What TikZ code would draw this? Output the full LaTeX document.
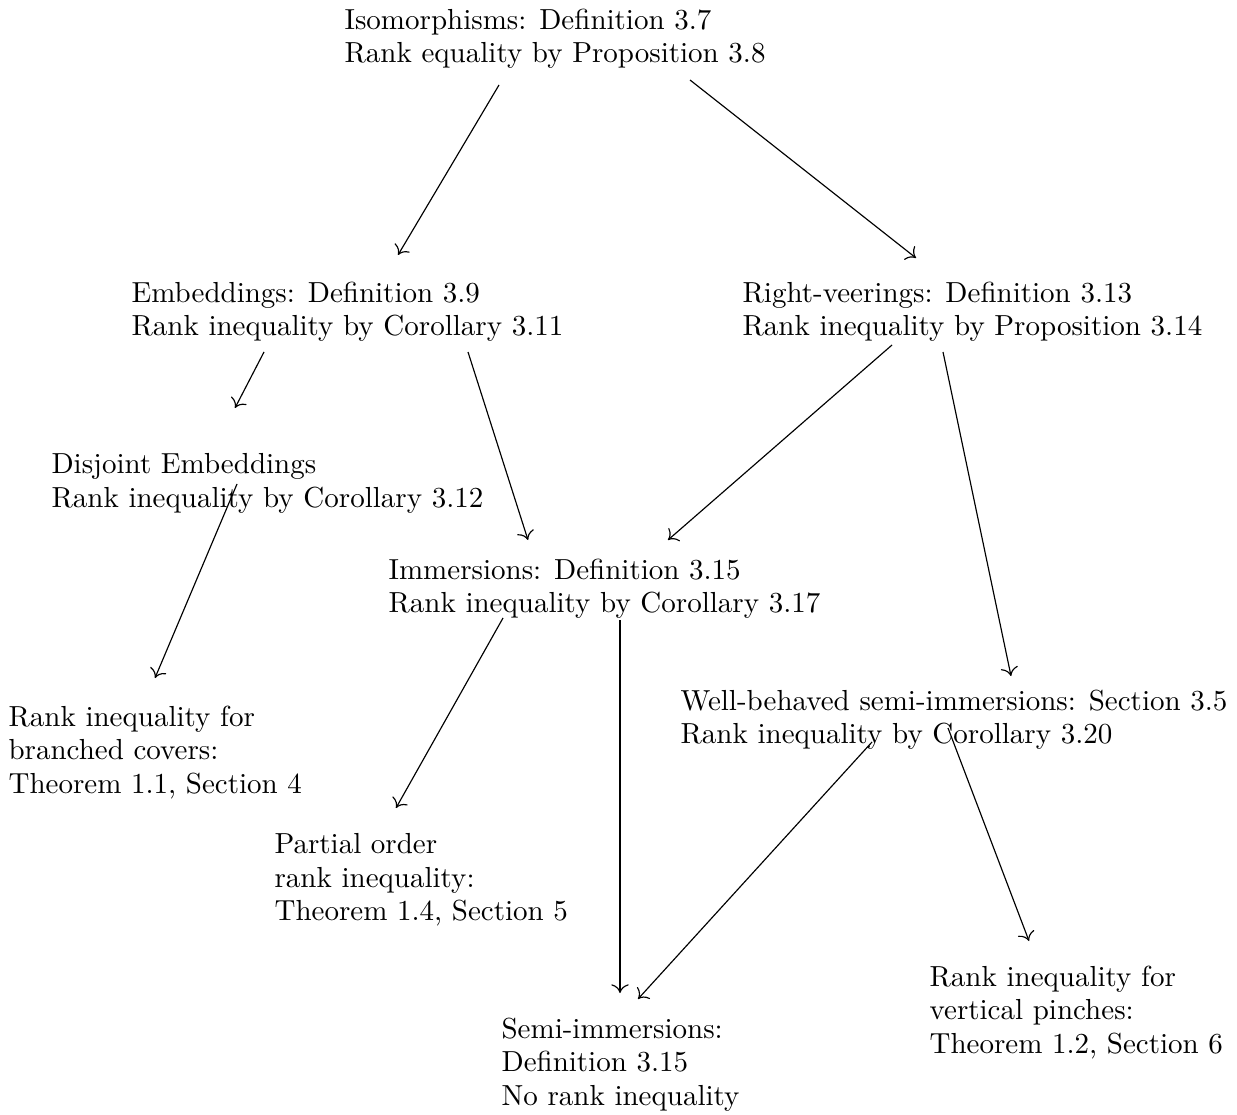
\documentclass[tikz,border=0pt]{standalone}
\usetikzlibrary{arrows.meta,calc}
\begin{document}
\begin{tikzpicture}[x=0.01211cm,y=-0.01211cm,->,>={To[length=3pt,width=6pt]},line width=0.4pt,
  every node/.style={align=left,anchor=north west,inner sep=0pt,font=\fontsize{10}{11.55}\selectfont}]
  \useasboundingbox (0,0) rectangle (1237,1114);

  \node (iso)    at (344,8)    {Isomorphisms: Definition 3.7\\Rank equality by Proposition 3.8};
  \node (emb)    at (131,281)  {Embeddings: Definition 3.9\\Rank inequality by Corollary 3.11};
  \node (right)  at (742,281)  {Right-veerings: Definition 3.13\\Rank inequality by Proposition 3.14};
  \node (dis)    at (51,453)   {Disjoint Embeddings\\Rank inequality by Corollary 3.12};
  \node (imm)    at (388,558)  {Immersions: Definition 3.15\\Rank inequality by Corollary 3.17};
  \node (branch) at (8,705)    {Rank inequality for\\branched covers:\\Theorem 1.1, Section 4};
  \node (well)   at (680,689)  {Well-behaved semi-immersions: Section 3.5\\Rank inequality by Corollary 3.20};
  \node (part)   at (274,833)  {Partial order\\rank inequality:\\Theorem 1.4, Section 5};
  \node (vert)   at (929,965)  {Rank inequality for\\vertical pinches:\\Theorem 1.2, Section 6};
  \node (semi)   at (501,1017) {Semi-immersions:\\Definition 3.15\\No rank inequality};

  \draw ($(iso.north west)+(155,77)$)    -- ($(emb.north west)+(267,-26)$);
  \draw ($(iso.north west)+(346,72)$)    -- ($(right.north west)+(174,-23)$);
  \draw ($(emb.north west)+(133,71)$)    -- ($(dis.north west)+(184,-45)$);
  \draw ($(emb.north west)+(337,71)$)    -- ($(imm.north west)+(140,-18)$);
  \draw ($(right.north west)+(150,64)$)  -- ($(imm.north west)+(280,-18)$);
  \draw ($(right.north west)+(201,71)$)  -- ($(well.north west)+(331,-13)$);
  \draw ($(dis.north west)+(186,31)$)    -- ($(branch.north west)+(147,-27)$);
  \draw ($(imm.north west)+(115,60)$)    -- ($(part.north west)+(122,-25)$);
  \draw ($(imm.north west)+(232,62)$)    -- ($(semi.north west)+(119,-24)$);
  \draw ($(well.north west)+(192,53)$)   -- ($(semi.north west)+(137,-18)$);
  \draw ($(well.north west)+(268,39)$)   -- ($(vert.north west)+(100,-24)$);
\end{tikzpicture}
\end{document}
